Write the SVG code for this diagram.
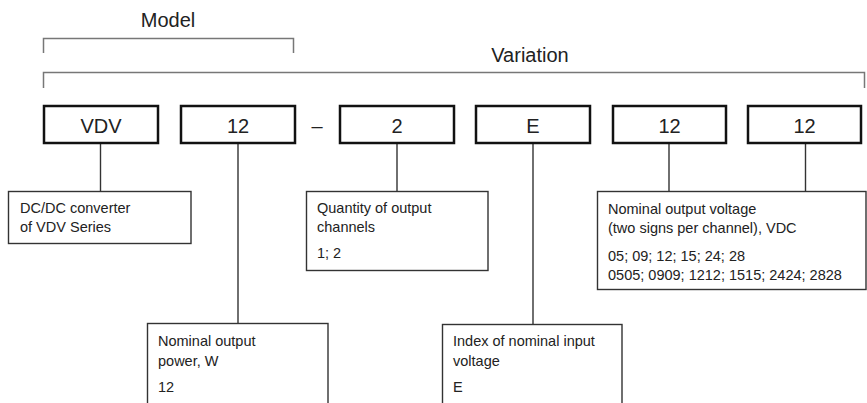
<svg xmlns="http://www.w3.org/2000/svg" width="867" height="403" viewBox="0 0 867 403">
<style>
.bg{fill:#fff}
.code{fill:#fff;stroke:#111;stroke-width:2.5}
.box{fill:#fff;stroke:#333;stroke-width:1.4}
.brk{fill:none;stroke:#777;stroke-width:1.5}
.con{fill:none;stroke:#333;stroke-width:1.4}
.big{font-family:"Liberation Sans",Arial,sans-serif;font-size:20px;fill:#222}
.ctr{text-anchor:middle}
.sm{font-family:"Liberation Sans",Arial,sans-serif;font-size:14.5px;fill:#222}
</style>
<rect class="bg" x="0" y="0" width="867" height="403"/>
<g id="model-label">
<text class="big ctr" x="168" y="27">Model</text>
<path class="brk" d="M43.5,53 V38.5 H293.5 V53"/>
</g>
<g id="variation-label">
<text class="big ctr" x="530" y="62">Variation</text>
<path class="brk" d="M43.5,88 V72.5 H864.5 V88"/>
</g>
<g id="connectors">
<line class="con" x1="100.5" y1="144" x2="100.5" y2="191"/>
<line class="con" x1="238" y1="144" x2="238" y2="323"/>
<line class="con" x1="397" y1="144" x2="397" y2="191"/>
<line class="con" x1="533" y1="144" x2="533" y2="324"/>
<line class="con" x1="669" y1="144" x2="669" y2="191"/>
<line class="con" x1="805.5" y1="144" x2="805.5" y2="191"/>
</g>
<g id="code-vdv"><rect class="code" x="44" y="106" width="114" height="37"/><text class="big ctr" x="101" y="133">VDV</text></g>
<g id="code-power"><rect class="code" x="181" y="106" width="114" height="37"/><text class="big ctr" x="238" y="133">12</text></g>
<g id="dash"><text class="big ctr" x="317" y="133">–</text></g>
<g id="code-channels"><rect class="code" x="340" y="106" width="114" height="37"/><text class="big ctr" x="397" y="133">2</text></g>
<g id="code-input"><rect class="code" x="476" y="106" width="114" height="37"/><text class="big ctr" x="533" y="133">E</text></g>
<g id="code-v1"><rect class="code" x="613" y="106" width="113" height="37"/><text class="big ctr" x="669.5" y="133">12</text></g>
<g id="code-v2"><rect class="code" x="748" y="106" width="113" height="37"/><text class="big ctr" x="804.5" y="133">12</text></g>
<g id="desc-series">
<rect class="box" x="8.5" y="191.5" width="182.5" height="52"/>
<text class="sm" x="20" y="213">DC/DC converter</text>
<text class="sm" x="20" y="232">of VDV Series</text>
</g>
<g id="desc-channels">
<rect class="box" x="306.5" y="191.5" width="181.5" height="79"/>
<text class="sm" x="317" y="213">Quantity of output</text>
<text class="sm" x="317" y="232">channels</text>
<text class="sm" x="317" y="258">1; 2</text>
</g>
<g id="desc-voltage">
<rect class="box" x="597.5" y="191.5" width="268.5" height="98"/>
<text class="sm" x="608" y="214">Nominal output voltage</text>
<text class="sm" x="608" y="233">(two signs per channel), VDC</text>
<text class="sm" x="608" y="261">05; 09; 12; 15; 24; 28</text>
<text class="sm" x="608" y="280">0505; 0909; 1212; 1515; 2424; 2828</text>
</g>
<g id="desc-power">
<rect class="box" x="147.5" y="323.5" width="180.5" height="90"/>
<text class="sm" x="158" y="346">Nominal output</text>
<text class="sm" x="158" y="366">power, W</text>
<text class="sm" x="158" y="392">12</text>
</g>
<g id="desc-input">
<rect class="box" x="442.5" y="324.5" width="179.5" height="90"/>
<text class="sm" x="453" y="346">Index of nominal input</text>
<text class="sm" x="453" y="366">voltage</text>
<text class="sm" x="453" y="392">E</text>
</g>
</svg>
